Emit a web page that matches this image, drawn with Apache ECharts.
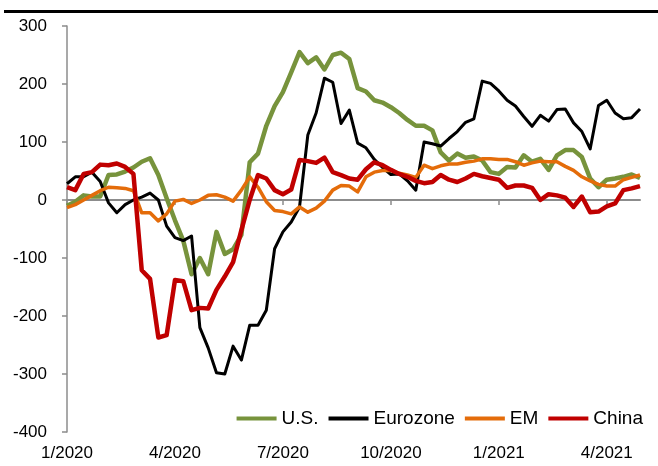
<!DOCTYPE html>
<html>
<head>
<meta charset="utf-8">
<script src="https://cdn.jsdelivr.net/npm/echarts@6/dist/echarts.min.js"></script>
<style>
  html, body { margin: 0; padding: 0; background: #fff; }
  #chart { width: 658px; height: 466px; }
</style>
</head>
<body>
<div id="chart"></div>
<script>
    // weekly observations (Fridays)
    const weeks = [
        '2020-01-03', '2020-01-10', '2020-01-17', '2020-01-24', '2020-01-31',
        '2020-02-07', '2020-02-14', '2020-02-21', '2020-02-28',
        '2020-03-06', '2020-03-13', '2020-03-20', '2020-03-27',
        '2020-04-03', '2020-04-10', '2020-04-17', '2020-04-24',
        '2020-05-01', '2020-05-08', '2020-05-15', '2020-05-22', '2020-05-29',
        '2020-06-05', '2020-06-12', '2020-06-19', '2020-06-26',
        '2020-07-03', '2020-07-10', '2020-07-17', '2020-07-24', '2020-07-31',
        '2020-08-07', '2020-08-14', '2020-08-21', '2020-08-28',
        '2020-09-04', '2020-09-11', '2020-09-18', '2020-09-25',
        '2020-10-02', '2020-10-09', '2020-10-16', '2020-10-23', '2020-10-30',
        '2020-11-06', '2020-11-13', '2020-11-20', '2020-11-27',
        '2020-12-04', '2020-12-11', '2020-12-18', '2020-12-25',
        '2021-01-01', '2021-01-08', '2021-01-15', '2021-01-22', '2021-01-29',
        '2021-02-05', '2021-02-12', '2021-02-19', '2021-02-26',
        '2021-03-05', '2021-03-12', '2021-03-19', '2021-03-26',
        '2021-04-02', '2021-04-09', '2021-04-16', '2021-04-23', '2021-04-30'
    ];

    const usData = [
        -10, -3, 8, 6, 6, 43, 44, 49, 56, 66, 72, 43, 3, -35, -70, -128, -100, -128, -55, -93,
        -85, -60, 65, 80, 128, 162, 186, 220, 255, 236, 246, 225, 250, 254, 243, 193, 187, 172, 168, 160,
        150, 138, 128, 128, 120, 82, 68, 80, 73, 75, 68, 48, 45, 57, 56, 77, 66, 71, 52, 77,
        86, 86, 74, 37, 22, 35, 37, 40, 44, 38
    ];
    const eurozoneData = [
        28, 40, 40, 48, 32, -5, -22, -8, 0, 5, 12, 0, -45, -65, -70, -62, -220, -255, -298, -300,
        -252, -276, -216, -216, -190, -84, -55, -38, -12, 112, 150, 210, 203, 132, 155, 98, 90, 70, 56, 44,
        45, 33, 17, 100, 97, 93, 106, 118, 134, 140, 205, 201, 188, 172, 162, 144, 127, 146, 136, 156,
        157, 133, 118, 88, 163, 172, 150, 140, 142, 157
    ];
    const emData = [
        -13, -8, 0, 8, 16, 22, 21, 20, 16, -22, -22, -36, -24, -2, 1, -6, 0, 8, 9, 5,
        -2, 17, 40, 22, -3, -18, -20, -24, -12, -21, -14, -2, 17, 25, 24, 14, 40, 48, 51, 51,
        46, 43, 39, 60, 54, 59, 62, 62, 65, 67, 71, 71, 70, 70, 66, 60, 64, 67, 66, 66,
        58, 51, 40, 33, 27, 24, 24, 35, 39, 43
    ];
    const chinaData = [
        22, 17, 45, 48, 61, 60, 63, 57, 45, -121, -136, -237, -233, -138, -140, -190, -186, -187, -155, -132,
        -107, -52, 0, 43, 37, 17, 10, 18, 69, 67, 64, 73, 48, 43, 37, 35, 53, 65, 60, 52,
        45, 40, 33, 29, 31, 43, 35, 31, 37, 45, 41, 38, 35, 21, 25, 25, 21, 0, 10, 8,
        4, -12, 6, -21, -20, -11, -6, 17, 20, 24
    ];

    const seriesNames = ['U.S.', 'Eurozone', 'EM', 'China'];
    const seriesColors = ['#77933C', '#000000', '#E46C0A', '#C00000'];
    const seriesWidths = [4.5, 3, 3.5, 4.5];
    const seriesData = [usData, eurozoneData, emData, chinaData];

    const yMin = -400;
    const yMax = 300;
    const yStep = 100;

    const font = 'Liberation Sans, Arial, sans-serif';
    const axisGray = '#8c8c8c';

    // label/tick only on the first week of each quarter
    const isQuarterStart = (index) => {
        const parts = weeks[index].split('-');
        const month = parseInt(parts[1], 10);
        const day = parseInt(parts[2], 10);
        return (month - 1) % 3 === 0 && day <= 7;
    };
    const quarterLabel = (value) => {
        const parts = value.split('-');
        return `${parseInt(parts[1], 10)}/${parts[0]}`;
    };

    const chart = echarts.init(document.getElementById('chart'), null, { renderer: 'canvas' });

    const option = {
        backgroundColor: '#fff',
        animation: false,
        grid: {
            left: 67,
            right: 18,
            top: 26,
            bottom: 34,
            containLabel: false
        },
        graphic: [{
            type: 'line',
            shape: { x1: 4, y1: 11.5, x2: 658, y2: 11.5 },
            style: { stroke: '#000', lineWidth: 3 }
        }],
        legend: {
            data: seriesNames,
            right: 10,
            top: 404,
            itemWidth: 40,
            itemHeight: 4,
            itemGap: 10,
            icon: 'rect',
            textStyle: { fontFamily: font, fontSize: 19, color: '#000' }
        },
        xAxis: [
            {
                // zero line with quarter ticks
                type: 'category',
                data: weeks,
                boundaryGap: false,
                axisLine: { onZero: true, lineStyle: { color: axisGray, width: 2 } },
                axisTick: { show: true, length: 5, interval: isQuarterStart, lineStyle: { color: axisGray, width: 1.5 } },
                axisLabel: { show: false },
                splitLine: { show: false }
            },
            {
                // labels along the bottom
                type: 'category',
                data: weeks,
                boundaryGap: false,
                position: 'bottom',
                axisLine: { show: false, onZero: false },
                axisTick: { show: false },
                axisLabel: {
                    interval: isQuarterStart,
                    formatter: quarterLabel,
                    fontFamily: font,
                    fontSize: 17,
                    color: '#000',
                    margin: 13
                },
                splitLine: { show: false }
            }
        ],
        yAxis: {
            type: 'value',
            min: yMin,
            max: yMax,
            interval: yStep,
            axisLine: { show: true, lineStyle: { color: axisGray, width: 1.5 } },
            axisTick: { show: true, length: 5, lineStyle: { color: axisGray, width: 1.5 } },
            axisLabel: { fontFamily: font, fontSize: 17, color: '#000', margin: 20 },
            splitLine: { show: false }
        },
        series: seriesNames.map((name, i) => ({
            name: name,
            type: 'line',
            xAxisIndex: 0,
            data: seriesData[i],
            showSymbol: false,
            symbol: 'none',
            color: seriesColors[i],
            lineStyle: { color: seriesColors[i], width: seriesWidths[i], join: 'round' },
            emphasis: { disabled: true }
        }))
    };

    chart.setOption(option);
</script>
</body>
</html>
